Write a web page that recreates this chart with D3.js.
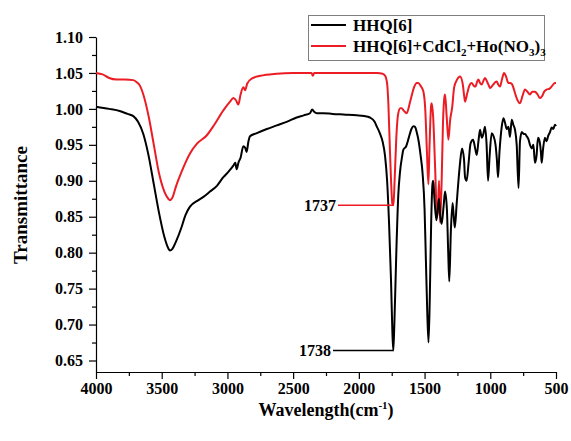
<!DOCTYPE html>
<html>
<head>
<meta charset="utf-8">
<script src="https://cdn.jsdelivr.net/npm/d3@7"></script>
<style>
  body { margin: 0; background: #fff; }
  svg { display: block; font-family: "Liberation Serif", "Times New Roman", serif; font-weight: bold; }
</style>
</head>
<body>
<svg id="chart" width="571" height="441"></svg>
<script>
// HHQ[6] spectrum (wavenumber, transmittance)
const wnBlack = [4000, 3900, 3820, 3760, 3716, 3680, 3640, 3600, 3560, 3520, 3480, 3450, 3437, 3420, 3390, 3350, 3320, 3285, 3230, 3180, 3133, 3080, 3031, 2990, 2955, 2940, 2930, 2915, 2900, 2879, 2865, 2854, 2840, 2828, 2780, 2700, 2625, 2550, 2473, 2420, 2372, 2355, 2340, 2320, 2270, 2200, 2100, 2017, 1960, 1916, 1880, 1865, 1840, 1820, 1801, 1785, 1770, 1755, 1745, 1738, 1730, 1715, 1700, 1687, 1670, 1662, 1640, 1620, 1600, 1585, 1573, 1560, 1545, 1530, 1515, 1500, 1490, 1480, 1470, 1460, 1450, 1440, 1434, 1425, 1410, 1400, 1390, 1380, 1370, 1355, 1344, 1330, 1320, 1312, 1300, 1287, 1278, 1270, 1255, 1240, 1230, 1215, 1200, 1192, 1180, 1165, 1150, 1131, 1115, 1103, 1090, 1078, 1065, 1053, 1040, 1028, 1017, 1005, 989, 975, 960, 950, 941, 930, 913, 900, 887, 875, 862, 850, 837, 825, 812, 799, 785, 774, 760, 745, 735, 723, 710, 698, 685, 672, 660, 648, 637, 625, 615, 609, 598, 584, 572, 560, 545, 533, 520, 508, 500];
const tBlack = [1.003, 1.000, 0.997, 0.993, 0.990, 0.982, 0.965, 0.935, 0.895, 0.855, 0.822, 0.806, 0.803, 0.805, 0.816, 0.835, 0.852, 0.864, 0.872, 0.878, 0.885, 0.893, 0.905, 0.913, 0.921, 0.925, 0.916, 0.926, 0.932, 0.948, 0.946, 0.940, 0.955, 0.962, 0.966, 0.972, 0.977, 0.982, 0.988, 0.991, 0.994, 0.999, 0.996, 0.994, 0.994, 0.993, 0.992, 0.991, 0.990, 0.988, 0.982, 0.976, 0.966, 0.955, 0.935, 0.900, 0.840, 0.760, 0.690, 0.664, 0.700, 0.800, 0.880, 0.912, 0.935, 0.943, 0.948, 0.960, 0.972, 0.976, 0.975, 0.968, 0.955, 0.935, 0.910, 0.860, 0.790, 0.720, 0.675, 0.740, 0.840, 0.895, 0.900, 0.875, 0.845, 0.860, 0.875, 0.850, 0.840, 0.865, 0.885, 0.860, 0.800, 0.760, 0.830, 0.869, 0.850, 0.835, 0.870, 0.905, 0.925, 0.945, 0.930, 0.905, 0.900, 0.925, 0.952, 0.957, 0.945, 0.936, 0.955, 0.971, 0.960, 0.965, 0.975, 0.950, 0.900, 0.935, 0.966, 0.962, 0.950, 0.930, 0.905, 0.940, 0.975, 0.987, 0.980, 0.972, 0.975, 0.961, 0.985, 0.978, 0.971, 0.950, 0.890, 0.955, 0.968, 0.965, 0.965, 0.962, 0.958, 0.950, 0.945, 0.950, 0.925, 0.935, 0.960, 0.955, 0.940, 0.925, 0.945, 0.960, 0.955, 0.962, 0.968, 0.974, 0.972, 0.978, 0.976];

// HHQ[6]+CdCl2+Ho(NO3)3 spectrum
const wnRed = [4000, 3950, 3900, 3843, 3780, 3716, 3690, 3665, 3640, 3600, 3560, 3520, 3480, 3450, 3437, 3420, 3390, 3350, 3320, 3285, 3230, 3158, 3100, 3031, 2980, 2955, 2935, 2917, 2900, 2879, 2865, 2850, 2816, 2750, 2625, 2500, 2400, 2360, 2350, 2340, 2200, 2000, 1900, 1860, 1820, 1800, 1785, 1775, 1765, 1755, 1745, 1737, 1728, 1715, 1702, 1685, 1675, 1660, 1636, 1610, 1580, 1560, 1548, 1530, 1510, 1495, 1482, 1471, 1462, 1450, 1446, 1435, 1420, 1405, 1398, 1390, 1382, 1370, 1360, 1350, 1344, 1332, 1319, 1305, 1290, 1275, 1255, 1240, 1230, 1210, 1200, 1192, 1175, 1160, 1142, 1125, 1113, 1100, 1090, 1078, 1065, 1050, 1040, 1025, 1010, 1002, 990, 977, 963, 951, 940, 926, 910, 895, 880, 862, 850, 837, 825, 812, 795, 774, 755, 736, 718, 698, 680, 660, 640, 622, 605, 590, 571, 550, 530, 508, 500];
const tRed = [1.050, 1.048, 1.043, 1.041, 1.041, 1.040, 1.037, 1.032, 1.020, 0.990, 0.950, 0.910, 0.885, 0.875, 0.873, 0.876, 0.893, 0.912, 0.925, 0.938, 0.952, 0.963, 0.978, 0.998, 1.010, 1.015, 1.012, 1.006, 1.020, 1.030, 1.026, 1.035, 1.042, 1.046, 1.049, 1.050, 1.050, 1.050, 1.046, 1.050, 1.050, 1.050, 1.050, 1.050, 1.049, 1.046, 1.035, 1.005, 0.950, 0.900, 0.868, 0.866, 0.900, 0.960, 0.992, 1.001, 1.001, 0.998, 0.994, 1.010, 1.030, 1.036, 1.036, 1.032, 1.025, 1.000, 0.940, 0.895, 0.950, 1.005, 1.008, 0.990, 0.920, 0.850, 0.860, 0.900, 0.842, 0.900, 0.980, 1.015, 1.020, 0.990, 0.957, 0.985, 1.002, 1.030, 1.040, 1.044, 1.045, 1.035, 1.020, 1.010, 1.022, 1.032, 1.036, 1.032, 1.031, 1.038, 1.041, 1.036, 1.034, 1.040, 1.043, 1.038, 1.032, 1.029, 1.031, 1.034, 1.037, 1.038, 1.034, 1.031, 1.042, 1.050, 1.045, 1.036, 1.036, 1.035, 1.030, 1.022, 1.013, 1.008, 1.018, 1.027, 1.024, 1.020, 1.024, 1.024, 1.020, 1.015, 1.018, 1.024, 1.027, 1.028, 1.032, 1.036, 1.036];

const xTicks = [4000, 3500, 3000, 2500, 2000, 1500, 1000, 500];
const xMinor = [3750, 3250, 2750, 2250, 1750, 1250, 750];
const yTicks = [0.65, 0.70, 0.75, 0.80, 0.85, 0.90, 0.95, 1.00, 1.05, 1.10];
const yMinor = [0.675, 0.725, 0.775, 0.825, 0.875, 0.925, 0.975, 1.025, 1.075];

const peakBlack = 1738;
const peakRed = 1737;

const svg = d3.select('#chart');
const black = '#000000';
const red = '#ec1c24';

const x = d3.scaleLinear().domain([4000, 500]).range([96, 556]);
const y = d3.scaleLinear().domain([0.634, 1.10]).range([372, 37]);

// Axes
const xAxisG = svg.append('g').attr('transform', 'translate(0,372)');
xAxisG.call(d3.axisBottom(x).tickValues(xTicks).tickSize(7).tickSizeOuter(0).tickPadding(4).tickFormat(d3.format('d')));
xAxisG.append('g').call(d3.axisBottom(x).tickValues(xMinor).tickSize(4).tickFormat(''))
  .select('.domain').remove();

const yAxisG = svg.append('g').attr('transform', 'translate(96,0)');
yAxisG.call(d3.axisLeft(y).tickValues(yTicks).tickSize(7).tickSizeOuter(0).tickPadding(6).tickFormat(d3.format('.2f')));
yAxisG.append('g').call(d3.axisLeft(y).tickValues(yMinor).tickSize(4).tickFormat(''))
  .select('.domain').remove();

svg.selectAll('.tick text')
  .style('font-family', '"Liberation Serif", serif')
  .style('font-weight', 'bold')
  .style('font-size', '16px')
  .attr('fill', black);
svg.selectAll('.domain, .tick line').attr('stroke', black).attr('stroke-width', 1.2);

// Axis titles
const xTitle = svg.append('text')
  .attr('x', 326).attr('y', 416)
  .attr('text-anchor', 'middle')
  .style('font-size', '18px');
xTitle.append('tspan').text('Wavelength(cm');
xTitle.append('tspan').attr('dy', -7).style('font-size', '11px').text('-1');
xTitle.append('tspan').attr('dy', 7).text(')');

svg.append('text')
  .attr('transform', 'translate(27,205) rotate(-90)')
  .attr('text-anchor', 'middle')
  .style('font-size', '19px')
  .text('Transmittance');

// Spectra
const line = d3.line()
  .x(d => x(d[0]))
  .y(d => y(d[1]))
  .curve(d3.curveMonotoneX);

const redData = wnRed.map((w, i) => [w, tRed[i]]);
const blackData = wnBlack.map((w, i) => [w, tBlack[i]]);

svg.append('path')
  .datum(redData)
  .attr('d', line)
  .attr('fill', 'none')
  .attr('stroke', red)
  .attr('stroke-width', 2);

svg.append('path')
  .datum(blackData)
  .attr('d', line)
  .attr('fill', 'none')
  .attr('stroke', black)
  .attr('stroke-width', 2);

// Peak labels, drawn at the value of each spectrum at its marked peak
const atBlack = tBlack[wnBlack.indexOf(peakBlack)];
const atRed = tRed[wnRed.indexOf(peakRed)];

svg.append('line')
  .attr('x1', 333).attr('x2', x(peakBlack))
  .attr('y1', y(atBlack)).attr('y2', y(atBlack))
  .attr('stroke', black).attr('stroke-width', 1.5);
svg.append('text')
  .attr('x', 331).attr('y', y(atBlack) + 5.5)
  .attr('text-anchor', 'end')
  .style('font-size', '16px')
  .text(peakBlack);

svg.append('line')
  .attr('x1', 338).attr('x2', x(peakRed))
  .attr('y1', y(atRed)).attr('y2', y(atRed))
  .attr('stroke', red).attr('stroke-width', 1.5);
svg.append('text')
  .attr('x', 336).attr('y', y(atRed) + 5.5)
  .attr('text-anchor', 'end')
  .style('font-size', '16px')
  .text(peakRed);

// Legend
const legend = svg.append('g');
legend.append('rect')
  .attr('x', 308.5).attr('y', 15.5)
  .attr('width', 236).attr('height', 45)
  .attr('fill', '#fff')
  .attr('stroke', '#7f7f7f');

legend.append('line')
  .attr('x1', 311).attr('x2', 346).attr('y1', 25).attr('y2', 25)
  .attr('stroke', black).attr('stroke-width', 2);
legend.append('text')
  .attr('x', 353).attr('y', 31)
  .style('font-size', '17px')
  .text('HHQ[6]');

legend.append('line')
  .attr('x1', 311).attr('x2', 346).attr('y1', 46).attr('y2', 46)
  .attr('stroke', red).attr('stroke-width', 2);
const lt = legend.append('text')
  .attr('x', 353).attr('y', 52)
  .style('font-size', '17px');
lt.append('tspan').text('HHQ[6]+CdCl');
lt.append('tspan').attr('dy', 4).style('font-size', '11px').text('2');
lt.append('tspan').attr('dy', -4).text('+Ho(NO');
lt.append('tspan').attr('dy', 4).style('font-size', '11px').text('3');
lt.append('tspan').attr('dy', -4).text(')');
lt.append('tspan').attr('dy', 4).style('font-size', '11px').text('3');
</script>
</body>
</html>
